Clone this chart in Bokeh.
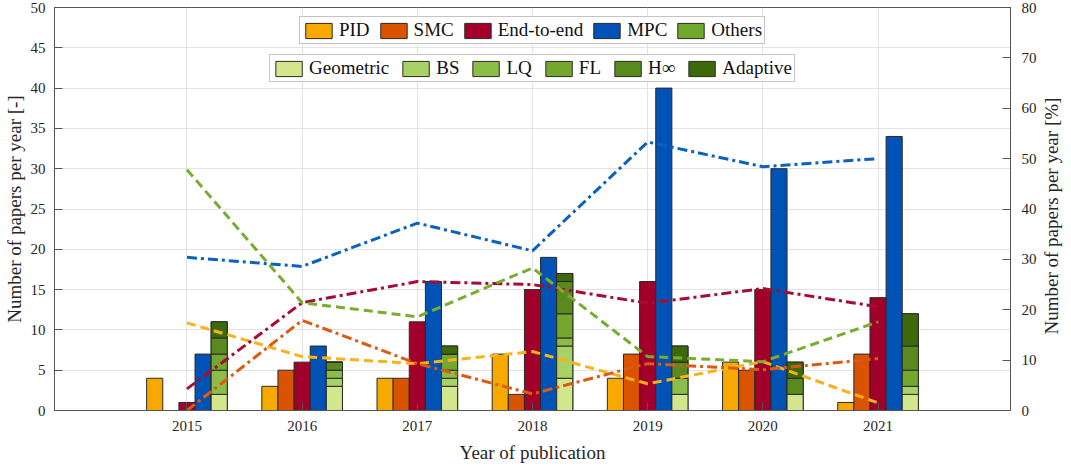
import math
from bokeh.plotting import figure
from bokeh.models import (Range1d, LinearAxis, FixedTicker, SingleIntervalTicker,
                          Legend, LegendItem, ColumnDataSource)
from bokeh.transform import dodge
from bokeh.embed import file_html
from bokeh.resources import INLINE

# ---------------- data ----------------
years = [2015, 2016, 2017, 2018, 2019, 2020, 2021]

pid = [4, 3, 4, 7, 4, 6, 1]
smc = [0, 5, 4, 2, 7, 5, 7]
end_to_end = [1, 6, 11, 15, 16, 15, 14]
mpc = [7, 8, 16, 19, 40, 30, 34]
others = [11, 6, 8, 17, 8, 6, 12]

# "Others" split into sub-categories (stacked)
geometric = [2, 3, 3, 4, 2, 2, 2]
bs = [0, 1, 1, 4, 0, 0, 1]
lq = [3, 1, 1, 1, 2, 0, 0]
fl = [2, 0, 2, 3, 0, 0, 2]
hinf = [2, 1, 0, 4, 2, 2, 3]
adaptive = [2, 0, 1, 1, 2, 2, 4]

# share of papers per year [%] (right axis)
pid_pct = [17.4, 10.7, 9.3, 11.7, 5.3, 9.7, 1.5]
smc_pct = [0.0, 17.9, 9.3, 3.3, 9.3, 8.1, 10.3]
e2e_pct = [4.3, 21.4, 25.6, 25.0, 21.3, 24.2, 20.6]
mpc_pct = [30.4, 28.6, 37.2, 31.7, 53.3, 48.4, 50.0]
others_pct = [47.8, 21.4, 18.6, 28.3, 10.7, 9.7, 17.6]

main_labels = ["PID", "SMC", "End-to-end", "MPC", "Others"]
sub_labels = ["Geometric", "BS", "LQ", "FL", "H\u221e", "Adaptive"]
x_title = "Year of publication"
y_title = "Number of papers per year [-]"
y2_title = "Number of papers per year [%]"

# ---------------- styles ----------------
FONT = "'Liberation Serif', 'Times New Roman', serif"
C_PID = "#F7A900"
C_SMC = "#D95300"
C_E2E = "#A0002A"
C_MPC = "#0052B4"
C_OTH = "#6FA82A"
SUB_COLORS = ["#D2E78C", "#A9D266", "#8CBD48", "#73A82C", "#5A8A1E", "#3C6A0B"]
L_PID = "#F9B11C"
L_SMC = "#DC5A12"
L_E2E = "#A50D35"
L_MPC = "#0862BE"
L_OTH = "#79AC30"
OUTLINE = "#2a2a2a"
W = 0.14
X0, X1 = 2013.85, 2022.15

src = ColumnDataSource(dict(year=years, pid=pid, smc=smc, e2e=end_to_end, mpc=mpc,
                            oth=others, geo=geometric, bs=bs, lq=lq, fl=fl,
                            hinf=hinf, ada=adaptive))

p = figure(width=1075, height=469,
           x_range=Range1d(X0, X1), y_range=Range1d(0, 50),
           output_backend="svg", toolbar_location=None,
           min_border_left=44, min_border_right=60, min_border_top=7, min_border_bottom=59)
p.background_fill_color = "white"
p.border_fill_color = "white"
p.outline_line_color = "#555555"
p.outline_line_width = 1

p.extra_y_ranges = {"pct": Range1d(0, 80)}

# grid
p.xgrid.ticker = FixedTicker(ticks=years)
p.ygrid.ticker = SingleIntervalTicker(interval=5)
p.xgrid.grid_line_color = "#e3e3e3"
p.ygrid.grid_line_color = "#e3e3e3"
p.xgrid.grid_line_width = 1
p.ygrid.grid_line_width = 1

# bars
bar_kw = dict(width=W, line_color=OUTLINE, line_width=1, source=src)
r_pid = p.vbar(x=dodge("year", -2 * W), top="pid", fill_color=C_PID, **bar_kw)
r_smc = p.vbar(x=dodge("year", -1 * W), top="smc", fill_color=C_SMC, **bar_kw)
r_e2e = p.vbar(x=dodge("year", 0.0), top="e2e", fill_color=C_E2E, **bar_kw)
r_mpc = p.vbar(x=dodge("year", 1 * W), top="mpc", fill_color=C_MPC, **bar_kw)
# total "Others" bar, fully covered by its breakdown drawn on top
r_oth = p.vbar(x=dodge("year", 2 * W), top="oth", fill_color=C_OTH, **bar_kw)
r_sub = p.vbar_stack(["geo", "bs", "lq", "fl", "hinf", "ada"], x=dodge("year", 2 * W),
                     width=W, fill_color=SUB_COLORS, line_color=OUTLINE, line_width=1,
                     source=src)

# percentage lines
DASH = "9 5"
DASHDOT = "10 4 3 4"
line_kw = dict(line_width=3, y_range_name="pct")
p.line(years, pid_pct, line_color=L_PID, line_dash=DASH, **line_kw)
p.line(years, smc_pct, line_color=L_SMC, line_dash=DASHDOT, **line_kw)
p.line(years, e2e_pct, line_color=L_E2E, line_dash=DASHDOT, **line_kw)
p.line(years, mpc_pct, line_color=L_MPC, line_dash=DASHDOT, **line_kw)
p.line(years, others_pct, line_color=L_OTH, line_dash=DASH, **line_kw)

# axes
def style_axis(ax):
    ax.axis_line_color = "#555555"
    ax.major_tick_line_color = "#555555"
    ax.minor_tick_line_color = None
    ax.major_tick_in = 8
    ax.major_tick_out = 0
    ax.major_label_text_font = FONT
    ax.major_label_text_font_size = "15px"
    ax.major_label_text_color = "#262626"
    ax.axis_label_text_font = FONT
    ax.axis_label_text_font_size = "19px"
    ax.axis_label_text_font_style = "normal"
    ax.axis_label_text_color = "#262626"

xax = p.xaxis[0]
xax.ticker = FixedTicker(ticks=years)
xax.axis_label = x_title
style_axis(xax)
xax.major_label_standoff = 10
xax.axis_label_standoff = 8

yax = p.yaxis[0]
yax.ticker = SingleIntervalTicker(interval=5)
yax.axis_label = y_title
style_axis(yax)
yax.major_label_standoff = 5
yax.axis_label_standoff = 3

rax = LinearAxis(y_range_name="pct", ticker=SingleIntervalTicker(interval=10))
style_axis(rax)
rax.major_label_standoff = 7
p.add_layout(rax, "right")

# title-only axis on the right: text reads bottom-to-top like the reference;
# it starts at the bottom of the panel, so it is pushed up with em spaces
tax = LinearAxis(y_range_name="pct", ticker=FixedTicker(ticks=[]),
                 axis_label="\u2003\u2003\u2003\u2003" + y2_title)
style_axis(tax)
tax.axis_line_color = None
tax.major_tick_line_color = None
tax.axis_label_standoff = 12
tax.axis_label_align = "start"
try:
    tax.axis_label_orientation = math.pi / 2
except AttributeError:
    pass
p.add_layout(tax, "right")

# legends
def make_legend(items, margin, spacing):
    leg = Legend(items=items, orientation="horizontal", location="top_center",
                 margin=margin, padding=2, spacing=spacing, label_standoff=4,
                 glyph_width=33, glyph_height=19, label_height=19,
                 label_text_font=FONT, label_text_font_size="19px",
                 label_text_color="#111111",
                 border_line_color="#8a8a8a", border_line_width=1,
                 background_fill_color="white", background_fill_alpha=1.0)
    return leg

leg1 = make_legend([LegendItem(label=lab, renderers=[r]) for lab, r in
                    zip(main_labels, [r_pid, r_smc, r_e2e, r_mpc, r_oth])], 9, 7)
leg2 = make_legend([LegendItem(label=lab, renderers=[r]) for lab, r in
                    zip(sub_labels, r_sub)], 47, 10)
p.add_layout(leg1)
p.add_layout(leg2)

open("out.html", "w").write(file_html(p, INLINE))
